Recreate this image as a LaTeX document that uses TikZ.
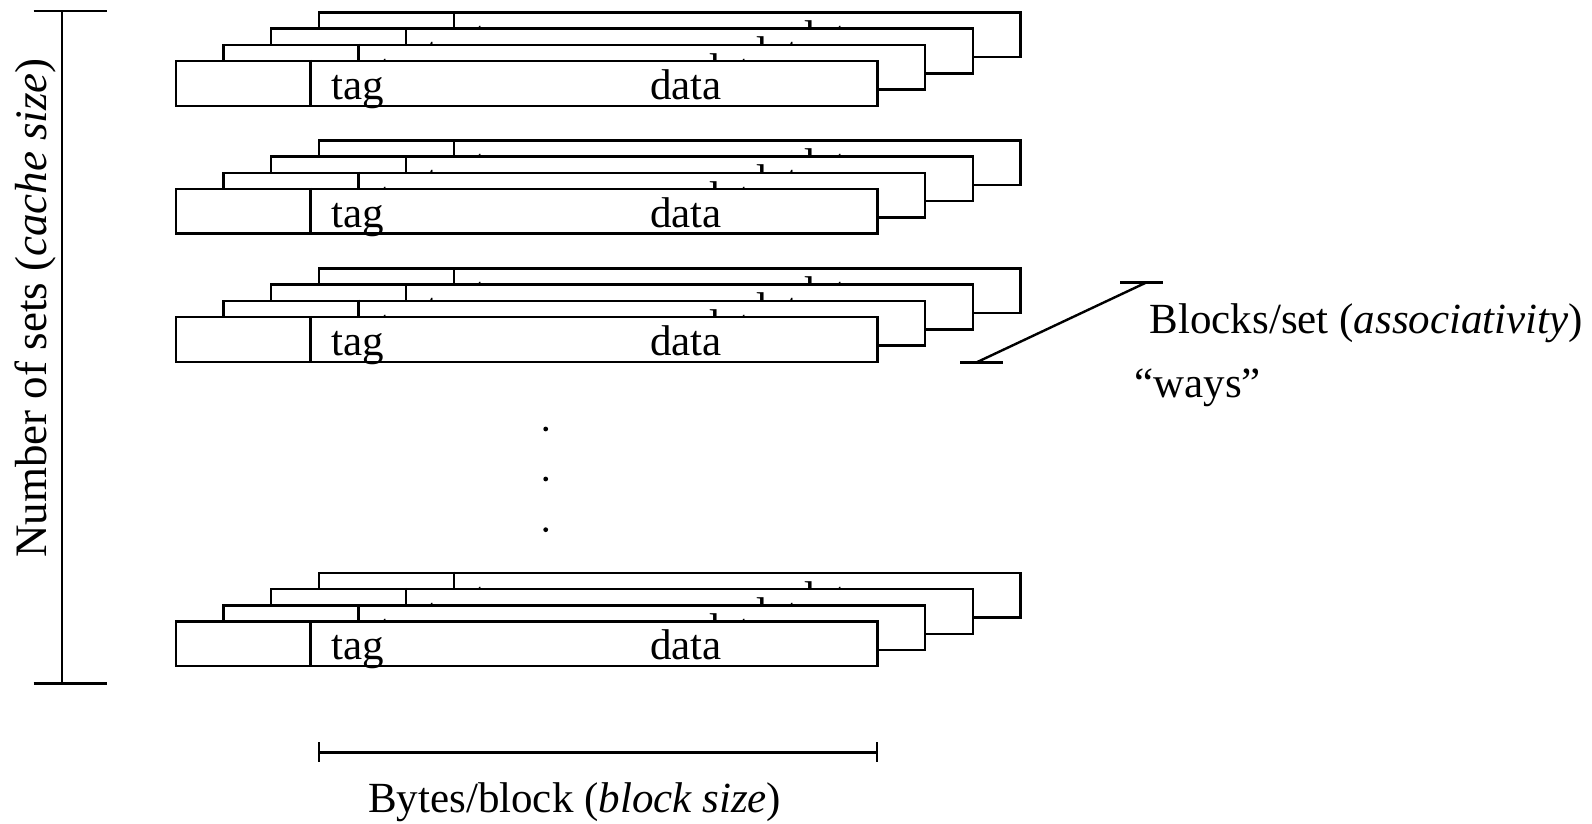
\documentclass[tikz,border=0pt]{standalone}
\usepackage{fontspec}
\setmainfont{Liberation Serif}
\usetikzlibrary{positioning}

\begin{document}
\begin{tikzpicture}[x=0.5pt, y=-0.5pt,
  block/.style={draw, fill=white, line width=1.2pt, minimum width=350.8pt, minimum height=22.35pt, inner sep=0pt, anchor=north west},
  lbl/.style={font=\fontsize{21.5}{26}\selectfont, inner sep=0pt, anchor=base west},
  txt/.style={font=\fontsize{21.5}{26}\selectfont, inner sep=0pt},
  bar/.style={line width=1.2pt},
  dot/.style={circle, fill, inner sep=0pt, minimum size=2.4pt},
]
\useasboundingbox (0,0) rectangle (1592,824);

% four sets, each a stack of four ways drawn back to front
\foreach \s/\top in {a/59.9, b/187.8, c/315.8, d/620.3} {
  \foreach \l in {3,2,1,0} {
    \pgfmathsetmacro\bx{174.6+47.7*\l}
    \pgfmathsetmacro\by{\top-16.2*\l}
    \node[block] (way-\s\l) at (\bx,\by) {};
    \draw[bar] (\bx+136,\by) -- (\bx+136,\by+44.7);
    \node[lbl] (tag-\s\l) at (\bx+156.4,\by+39.5) {tag};
    \node[lbl] (data-\s\l) at (\bx+475.4,\by+39.5) {data};
  }
}

% vertical dots between sets
\node[dot] (dot1) at (545.7,429) {};
\node[dot] (dot2) at (545.7,479) {};
\node[dot] (dot3) at (545.7,529.7) {};

% number of sets
\coordinate (sets-top) at (61.9,11.2);
\coordinate (sets-bot) at (61.9,683.3);
\draw[bar] (sets-top) -- (sets-bot);
\draw[bar] (33.5,11.2) -- (106.6,11.2);
\draw[bar] (33.5,683.3) -- (106.6,683.3);
\node[txt, font=\fontsize{22.5}{27}\selectfont, rotate=90] (sets) at (35.5,308) {Number of sets (\textit{cache size})};

% block size
\coordinate (bytes-l) at (318.8,752.3);
\coordinate (bytes-r) at (877.2,752.3);
\draw[bar] (bytes-l) -- (bytes-r);
\draw[bar] (318.8,742.2) -- (318.8,762.4);
\draw[bar] (877.2,742.2) -- (877.2,762.4);
\node[txt] (bytes) at (574.7,802) {Bytes/block (\textit{block size})};

% associativity
\coordinate (ways-lo) at (976.7,362.3);
\coordinate (ways-hi) at (1146.7,282.3);
\draw[bar] (ways-lo) -- (ways-hi);
\draw[bar] (960,362.3) -- (1003,362.3);
\draw[bar] (1120,282.3) -- (1163,282.3);
\node[txt, anchor=west] (assoc) at (1149.3,322.9) {Blocks/set (\textit{associativity})};
\node[txt, anchor=west] (ways) at (1134,387.8) {“ways”};
\end{tikzpicture}
\end{document}
